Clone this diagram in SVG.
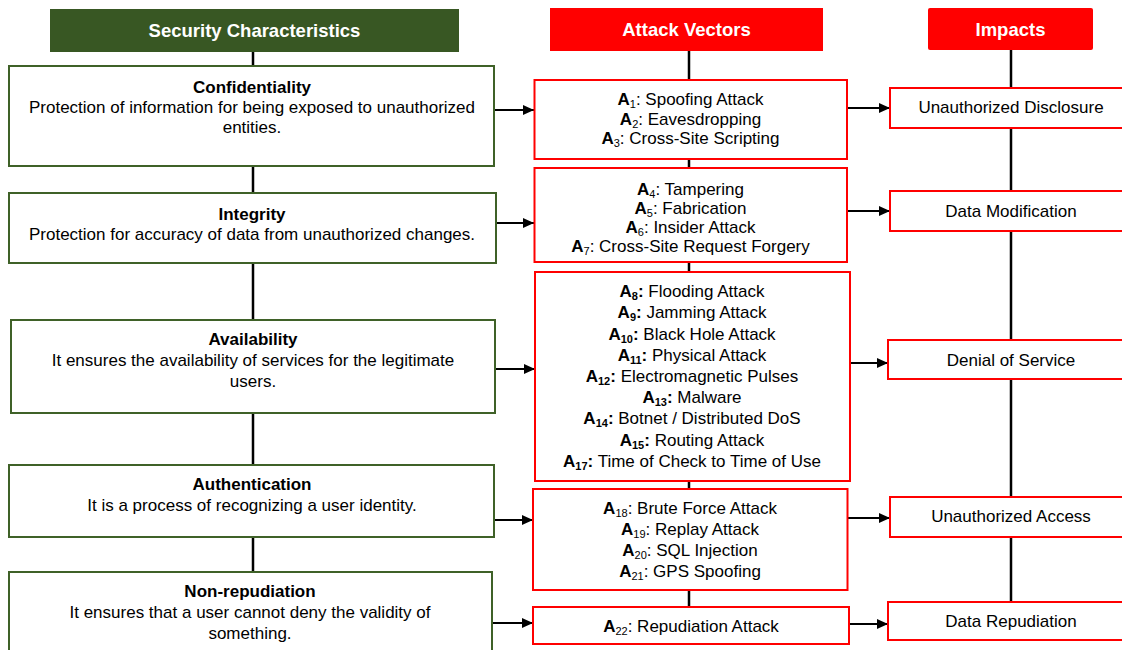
<svg xmlns="http://www.w3.org/2000/svg" width="1122" height="650" viewBox="0 0 1122 650">
<defs>
<marker id="arr" markerUnits="userSpaceOnUse" markerWidth="12" markerHeight="12" refX="11" refY="6" orient="auto">
<path d="M0,1 L11,6 L0,11 Z" fill="#000"/>
</marker>
<style>
text{font-family:"Liberation Sans",Arial,sans-serif;font-size:17px;fill:#000;text-anchor:middle}
.hdr{font-weight:bold;font-size:18.5px;fill:#fff}
.b{font-weight:bold}
.sub{font-size:11px}
.gbox{fill:#fff;stroke:#3f6128;stroke-width:2}
.rbox{fill:#fff;stroke:#ff0000;stroke-width:2}
.vline{stroke:#000;stroke-width:2.5;fill:none}
.arrow{stroke:#000;stroke-width:2;fill:none;marker-end:url(#arr)}
</style>
</defs>
<rect width="1122" height="650" fill="#fff"/>

<g id="connectors">
<line class="vline" x1="253" y1="52" x2="253" y2="572"/>
<line class="vline" x1="689" y1="51" x2="689" y2="607"/>
<line class="vline" x1="1011" y1="50" x2="1011" y2="602"/>
<line class="arrow" x1="494" y1="110" x2="534" y2="110"/>
<line class="arrow" x1="496" y1="223" x2="534" y2="223"/>
<line class="arrow" x1="495" y1="369" x2="535" y2="369"/>
<line class="arrow" x1="494" y1="520" x2="533" y2="520"/>
<line class="arrow" x1="492" y1="623" x2="533" y2="623"/>
<line class="arrow" x1="847" y1="108" x2="890" y2="108"/>
<line class="arrow" x1="847" y1="211" x2="890" y2="211"/>
<line class="arrow" x1="850" y1="363" x2="888" y2="363"/>
<line class="arrow" x1="847" y1="518" x2="890" y2="518"/>
<line class="arrow" x1="849" y1="624" x2="888" y2="624"/>
</g>

<g id="hdr-security">
<rect x="50" y="9" width="409" height="43" fill="#385723"/>
<text class="hdr" x="254.5" y="37">Security Characteristics</text>
</g>
<g id="hdr-attack">
<rect x="550" y="8" width="273" height="43" fill="#ff0000"/>
<text class="hdr" x="686.5" y="36">Attack Vectors</text>
</g>
<g id="hdr-impacts">
<rect x="928" y="8" width="165" height="42" rx="2" fill="#ff0000"/>
<text class="hdr" x="1010.5" y="36">Impacts</text>
</g>

<g id="confidentiality">
<rect class="gbox" x="9" y="66" width="485" height="100"/>
<text class="b" x="252" y="93">Confidentiality</text>
<text x="252" y="113">Protection of information for being exposed to unauthorized</text>
<text x="252" y="133">entities.</text>
</g>
<g id="integrity">
<rect class="gbox" x="9" y="193" width="487" height="70"/>
<text class="b" x="252" y="220">Integrity</text>
<text x="252" y="240">Protection for accuracy of data from unauthorized changes.</text>
</g>
<g id="availability">
<rect class="gbox" x="11" y="320" width="484" height="93"/>
<text class="b" x="253" y="345">Availability</text>
<text x="253" y="366">It ensures the availability of services for the legitimate</text>
<text x="253" y="387">users.</text>
</g>
<g id="authentication">
<rect class="gbox" x="9" y="465" width="485" height="72"/>
<text class="b" x="252" y="490">Authentication</text>
<text x="252" y="511">It is a process of recognizing a user identity.</text>
</g>
<g id="nonrepudiation">
<rect class="gbox" x="9" y="572" width="483" height="90"/>
<text class="b" x="250" y="597">Non-repudiation</text>
<text x="250" y="618">It ensures that a user cannot deny the validity of</text>
<text x="250" y="639">something.</text>
</g>

<g id="av-conf">
<rect class="rbox" x="534.5" y="80" width="312.5" height="79"/>
<text x="690.5" y="105"><tspan class="b">A</tspan><tspan class="sub" dy="3">1</tspan><tspan dy="-3">: Spoofing Attack</tspan></text>
<text x="690.5" y="125"><tspan class="b">A</tspan><tspan class="sub" dy="3">2</tspan><tspan dy="-3">: Eavesdropping</tspan></text>
<text x="690.5" y="144"><tspan class="b">A</tspan><tspan class="sub" dy="3">3</tspan><tspan dy="-3">: Cross-Site Scripting</tspan></text>
</g>
<g id="av-integ">
<rect class="rbox" x="534.5" y="168" width="312.5" height="94"/>
<text x="690.5" y="195"><tspan class="b">A</tspan><tspan class="sub" dy="3">4</tspan><tspan dy="-3">: Tampering</tspan></text>
<text x="690.5" y="214"><tspan class="b">A</tspan><tspan class="sub" dy="3">5</tspan><tspan dy="-3">: Fabrication</tspan></text>
<text x="690.5" y="233"><tspan class="b">A</tspan><tspan class="sub" dy="3">6</tspan><tspan dy="-3">: Insider Attack</tspan></text>
<text x="690.5" y="252"><tspan class="b">A</tspan><tspan class="sub" dy="3">7</tspan><tspan dy="-3">: Cross-Site Request Forgery</tspan></text>
</g>
<g id="av-avail">
<rect class="rbox" x="535" y="272" width="315" height="209"/>
<text x="692" y="297"><tspan class="b">A</tspan><tspan class="sub b" dy="3">8</tspan><tspan class="b" dy="-3">:</tspan> Flooding Attack</text>
<text x="692" y="318"><tspan class="b">A</tspan><tspan class="sub b" dy="3">9</tspan><tspan class="b" dy="-3">:</tspan> Jamming Attack</text>
<text x="692" y="340"><tspan class="b">A</tspan><tspan class="sub b" dy="3">10</tspan><tspan class="b" dy="-3">:</tspan> Black Hole Attack</text>
<text x="692" y="361"><tspan class="b">A</tspan><tspan class="sub b" dy="3">11</tspan><tspan class="b" dy="-3">:</tspan> Physical Attack</text>
<text x="692" y="382"><tspan class="b">A</tspan><tspan class="sub b" dy="3">12</tspan><tspan class="b" dy="-3">:</tspan> Electromagnetic Pulses</text>
<text x="692" y="403"><tspan class="b">A</tspan><tspan class="sub b" dy="3">13</tspan><tspan class="b" dy="-3">:</tspan> Malware</text>
<text x="692" y="424"><tspan class="b">A</tspan><tspan class="sub b" dy="3">14</tspan><tspan class="b" dy="-3">:</tspan> Botnet / Distributed DoS</text>
<text x="692" y="446"><tspan class="b">A</tspan><tspan class="sub b" dy="3">15</tspan><tspan class="b" dy="-3">:</tspan> Routing Attack</text>
<text x="692" y="467"><tspan class="b">A</tspan><tspan class="sub b" dy="3">17</tspan><tspan class="b" dy="-3">:</tspan> Time of Check to Time of Use</text>
</g>
<g id="av-auth">
<rect class="rbox" x="533" y="489" width="314.5" height="101"/>
<text x="690" y="514"><tspan class="b">A</tspan><tspan class="sub" dy="3">18</tspan><tspan dy="-3">: Brute Force Attack</tspan></text>
<text x="690" y="535"><tspan class="b">A</tspan><tspan class="sub" dy="3">19</tspan><tspan dy="-3">: Replay Attack</tspan></text>
<text x="690" y="556"><tspan class="b">A</tspan><tspan class="sub" dy="3">20</tspan><tspan dy="-3">: SQL Injection</tspan></text>
<text x="690" y="577"><tspan class="b">A</tspan><tspan class="sub" dy="3">21</tspan><tspan dy="-3">: GPS Spoofing</tspan></text>
</g>
<g id="av-nonrep">
<rect class="rbox" x="533" y="607" width="316" height="37"/>
<text x="691" y="632"><tspan class="b">A</tspan><tspan class="sub" dy="3">22</tspan><tspan dy="-3">: Repudiation Attack</tspan></text>
</g>

<g id="imp-disclosure">
<rect class="rbox" x="890" y="88" width="240" height="40"/>
<text x="1011" y="113">Unauthorized Disclosure</text>
</g>
<g id="imp-modification">
<rect class="rbox" x="890" y="191" width="240" height="40"/>
<text x="1011" y="217">Data Modification</text>
</g>
<g id="imp-dos">
<rect class="rbox" x="888" y="340" width="242" height="39"/>
<text x="1011" y="366">Denial of Service</text>
</g>
<g id="imp-access">
<rect class="rbox" x="890" y="497" width="240" height="40"/>
<text x="1011" y="522">Unauthorized Access</text>
</g>
<g id="imp-repudiation">
<rect class="rbox" x="888" y="602" width="242" height="38"/>
<text x="1011" y="627">Data Repudiation</text>
</g>
</svg>
